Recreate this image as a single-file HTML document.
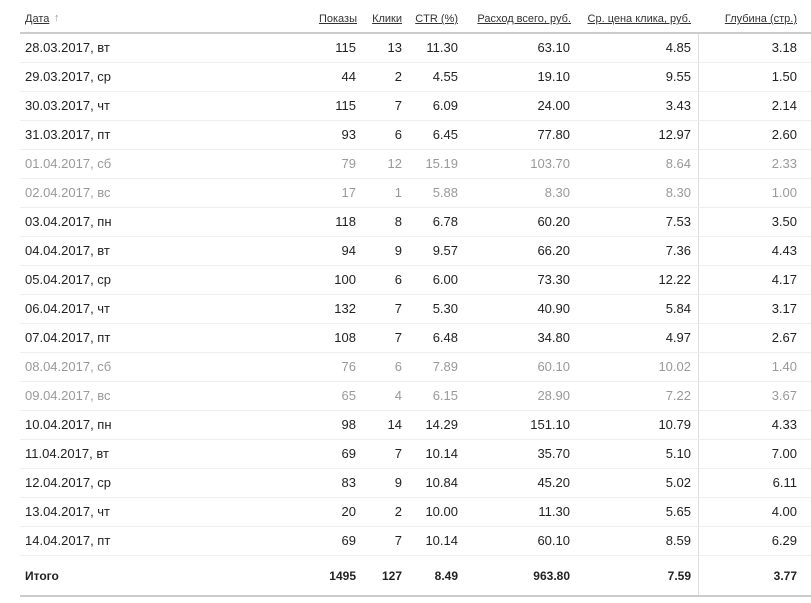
<!DOCTYPE html>
<html><head><meta charset="utf-8"><style>
body{margin:0;width:811px;height:603px;background:#fff;overflow:hidden;font-family:"Liberation Sans","DejaVu Sans",sans-serif;position:relative}
.h{position:absolute;top:13px;font-size:11px;color:#333;text-decoration:underline;white-space:nowrap}
.line{position:absolute;left:20px;width:800px;height:1px;background:#eee}
.r{position:absolute;left:0;width:811px;height:29px;font-size:13px;color:#222}
.r span{position:absolute;top:6px;white-space:nowrap}
.w{color:#999}
.t{font-weight:bold;font-size:12px}
</style></head><body>
<div class="h" style="left:25px">Дата</div><div style="position:absolute;left:54px;top:12px;font-size:11px;color:#999">↑</div>
<div class="h" style="right:454px">Показы</div>
<div class="h" style="right:409px">Клики</div>
<div class="h" style="right:353px">CTR (%)</div>
<div class="h" style="right:240px">Расход всего, руб.</div>
<div class="h" style="right:120px">Ср. цена клика, руб.</div>
<div class="h" style="right:14px">Глубина (стр.)</div>
<div style="position:absolute;left:20px;top:32px;width:800px;height:2px;background:#ccc"></div>
<div style="position:absolute;left:698px;top:34px;width:1px;height:562px;background:#ddd"></div>
<div id="rows"></div>
<div style="position:absolute;left:20px;top:595px;width:800px;height:2px;background:#ccc"></div>
<script>
var d=[["28.03.2017, вт",115,13,"11.30","63.10","4.85","3.18"],["29.03.2017, ср",44,2,"4.55","19.10","9.55","1.50"],["30.03.2017, чт",115,7,"6.09","24.00","3.43","2.14"],["31.03.2017, пт",93,6,"6.45","77.80","12.97","2.60"],["01.04.2017, сб",79,12,"15.19","103.70","8.64","2.33",1],["02.04.2017, вс",17,1,"5.88","8.30","8.30","1.00",1],["03.04.2017, пн",118,8,"6.78","60.20","7.53","3.50"],["04.04.2017, вт",94,9,"9.57","66.20","7.36","4.43"],["05.04.2017, ср",100,6,"6.00","73.30","12.22","4.17"],["06.04.2017, чт",132,7,"5.30","40.90","5.84","3.17"],["07.04.2017, пт",108,7,"6.48","34.80","4.97","2.67"],["08.04.2017, сб",76,6,"7.89","60.10","10.02","1.40",1],["09.04.2017, вс",65,4,"6.15","28.90","7.22","3.67",1],["10.04.2017, пн",98,14,"14.29","151.10","10.79","4.33"],["11.04.2017, вт",69,7,"10.14","35.70","5.10","7.00"],["12.04.2017, ср",83,9,"10.84","45.20","5.02","6.11"],["13.04.2017, чт",20,2,"10.00","11.30","5.65","4.00"],["14.04.2017, пт",69,7,"10.14","60.10","8.59","6.29"]];
var R=[455,409,353,241,120,14],h="";
d.forEach(function(x,i){var top=34+i*29.0;h+='<div class="r'+(x[7]?' w':'')+'" style="top:'+top+'px"><span style="left:25px">'+x[0]+'</span>';for(var j=0;j<6;j++)h+='<span style="right:'+R[j]+'px">'+x[j+1]+'</span>';h+='</div><div class="line" style="top:'+(top+28)+'px"></div>';});
h+='<div class="r t" style="top:563px"><span style="left:25px">Итого</span>';["1495","127","8.49","963.80","7.59","3.77"].forEach(function(v,j){h+='<span style="right:'+R[j]+'px">'+v+'</span>'});h+='</div>';
document.getElementById('rows').innerHTML=h;
</script>
</body></html>
